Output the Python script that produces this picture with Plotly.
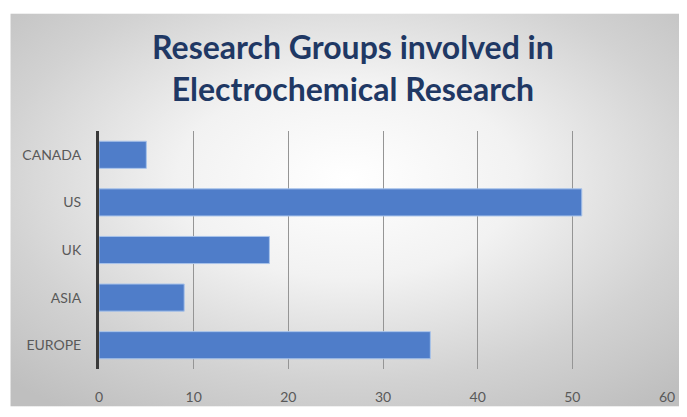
import base64
import plotly.graph_objects as go

# Data
regions = ["CANADA", "US", "UK", "ASIA", "EUROPE"]
groups = [5, 51, 18, 9, 35]
x_ticks = [0, 10, 20, 30, 40, 50, 60]
title_lines = ["Research Groups involved in", "Electrochemical Research"]

W, H = 679, 409
L, R, T, B = 91, 18, 123, 39
pw, ph = W - L - R, H - T - B

svg = (
    '<svg xmlns="http://www.w3.org/2000/svg" width="679" height="409" '
    'viewBox="0 0 679 409" preserveAspectRatio="none">'
    '<defs><radialGradient id="g" cx="0.5" cy="0.42" r="0.72">'
    '<stop offset="0" stop-color="#ffffff"/>'
    '<stop offset="0.35" stop-color="#f2f2f2"/>'
    '<stop offset="0.72" stop-color="#d2d2d2"/>'
    '<stop offset="1" stop-color="#bfbfbf"/>'
    '</radialGradient></defs>'
    '<rect width="679" height="409" fill="url(#g)"/></svg>'
)
src = "data:image/svg+xml;base64," + base64.b64encode(svg.encode()).decode()

fig = go.Figure(
    go.Bar(
        y=regions,
        x=groups,
        orientation="h",
        marker=dict(color="#4f7dc9", line=dict(color="#a8c3ea", width=1)),
    )
)

fig.add_layout_image(
    dict(
        source=src,
        xref="paper", yref="paper",
        x=(2 - L) / pw,
        y=(H - B - 1) / ph,
        sizex=(W - 2) / pw,
        sizey=(H - 1) / ph,
        xanchor="left", yanchor="top",
        sizing="stretch",
        layer="below",
    )
)

fig.update_layout(
    width=W, height=H,
    margin=dict(l=L, r=R, t=T, b=B),
    paper_bgcolor="white",
    plot_bgcolor="rgba(0,0,0,0)",
    bargap=0.43,
    showlegend=False,
    title=dict(
        text="<br>".join(title_lines),
        x=0.508, xanchor="center",
        y=(H - 51) / H, yanchor="middle",
        font=dict(family="Lato", size=32, color="#1f3864", weight="bold"),
    ),
    font=dict(family="Lato", size=12, color="#595959"),
)

fig.update_xaxes(
    range=[0, 60],
    tickvals=x_ticks,
    showgrid=True, gridcolor="#959595", gridwidth=1,
    zeroline=False, showline=False,
    ticks="outside", ticklen=15, tickcolor="rgba(0,0,0,0)",
    tickfont=dict(family="Lato", size=14, color="#595959"),
    fixedrange=True,
)
fig.update_yaxes(
    categoryorder="array", categoryarray=regions[::-1],
    showline=True, linecolor="#3a3a3a", linewidth=3,
    showgrid=False, zeroline=False,
    ticks="outside", ticklen=12, tickcolor="rgba(0,0,0,0)",
    tickfont=dict(family="Lato", size=14, color="#595959"),
    fixedrange=True,
)

fig.write_html("out.html")
